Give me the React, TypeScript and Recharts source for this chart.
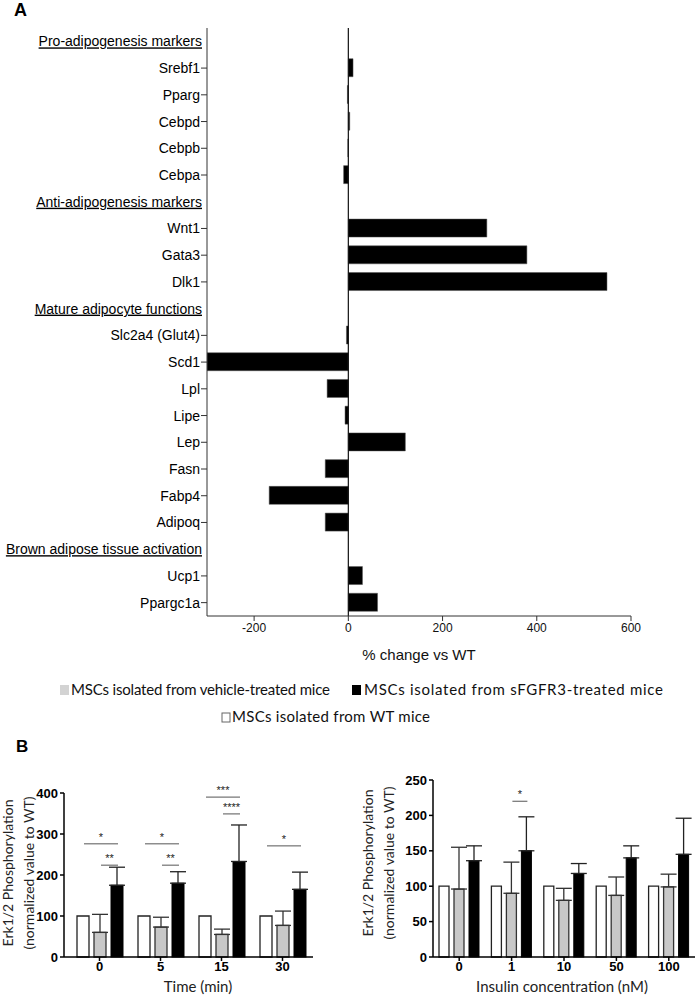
import React from 'react';
import { BarChart, Bar, XAxis, YAxis, ReferenceLine, ErrorBar } from 'recharts';

// ---------- Panel A data ----------
const A_NAMES = [
  'Pro-adipogenesis markers', 'Srebf1', 'Pparg', 'Cebpd', 'Cebpb', 'Cebpa',
  'Anti-adipogenesis markers', 'Wnt1', 'Gata3', 'Dlk1',
  'Mature adipocyte functions', 'Slc2a4 (Glut4)', 'Scd1', 'Lpl', 'Lipe', 'Lep', 'Fasn', 'Fabp4', 'Adipoq',
  'Brown adipose tissue activation', 'Ucp1', 'Ppargc1a',
];
const A_VALUES: (number | null)[] = [
  null, 10, -2, 3, -1, -10,
  null, 294, 379, 549,
  null, -4, -300, -45, -7, 121, -49, -168, -49,
  null, 30, 62,
];
const A_HEADINGS = [
  'Pro-adipogenesis markers', 'Anti-adipogenesis markers',
  'Mature adipocyte functions', 'Brown adipose tissue activation',
];
const A_TICKS = [-200, 0, 200, 400, 600];

// ---------- Panel B left (time) ----------
const T_CATS = ['0', '5', '15', '30'];
const T_WT = [100, 100, 100, 100];
const T_VEH = [60, 73, 55, 77];
const T_VEH_ERR = [44, 24, 13, 35];
const T_SFG = [175, 180, 233, 165];
const T_SFG_ERR = [44, 28, 89, 42];
const T_TICKS = [0, 100, 200, 300, 400];
const T_SIG_CAT = ['0', '0', '5', '5', '15', '15', '30'];
const T_SIG_FROM = ['wt', 'veh', 'wt', 'veh', 'wt', 'veh', 'wt'];
const T_SIG_Y = [276, 224, 276, 224, 390, 349, 271];
const T_SIG_LABEL = ['*', '**', '*', '**', '***', '****', '*'];

// ---------- Panel B right (insulin) ----------
const I_CATS = ['0', '1', '10', '50', '100'];
const I_WT = [100, 100, 100, 100, 100];
const I_VEH = [96, 90, 80, 87, 99];
const I_VEH_ERR = [59, 44, 17, 26, 18];
const I_SFG = [136, 150, 118, 140, 145];
const I_SFG_ERR = [21, 48, 14, 17, 51];
const I_TICKS = [0, 50, 100, 150, 200, 250];
const I_SIG_CAT = ['1'];
const I_SIG_FROM = ['veh'];
const I_SIG_Y = [220];
const I_SIG_LABEL = ['*'];

const F_ARIAL = '"Liberation Sans", Arial, sans-serif';
const F_CAL = 'Lato, "Open Sans", sans-serif';
const F_NARROW = '"Liberation Sans Narrow", "Liberation Sans", Arial, sans-serif';

const aData = A_NAMES.map((name, i) => ({ name, value: A_VALUES[i] }));
const tData = T_CATS.map((c, i) => ({
  cat: c, wt: T_WT[i], veh: T_VEH[i], vehErr: [0, T_VEH_ERR[i]], sfg: T_SFG[i], sfgErr: [0, T_SFG_ERR[i]],
}));
const iData = I_CATS.map((c, i) => ({
  cat: c, wt: I_WT[i], veh: I_VEH[i], vehErr: [0, I_VEH_ERR[i]], sfg: I_SFG[i], sfgErr: [0, I_SFG_ERR[i]],
}));

const GeneTick = (props: any) => {
  const { x, y, payload } = props;
  const heading = A_HEADINGS.includes(payload.value);
  if (heading) {
    return (
      <text x={x - 5} y={y} dy={5} textAnchor="end" fontSize={14} fontFamily={F_ARIAL} fill="#000"
        textDecoration="underline">{payload.value}</text>
    );
  }
  return (
    <g>
      <line x1={x - 6} x2={x} y1={y} y2={y} stroke="#333" strokeWidth={1} />
      <text x={x - 7} y={y} dy={5} textAnchor="end" fontSize={14} fontFamily={F_ARIAL} fill="#000">{payload.value}</text>
    </g>
  );
};

const makeSfgShape = (cats: string[], sigCat: string[], sigFrom: string[], sigY: number[], sigLabel: string[], gap: number) =>
  (props: any) => {
    const { x, y, width, height, index, payload } = props;
    const v = payload.sfg;
    const ppu = height / v;
    const bottom = y + height;
    const cx = x + width / 2;
    const step = width + gap;
    const items: any[] = [];
    sigCat.forEach((c, k) => {
      if (c !== cats[index]) return;
      const fromX = sigFrom[k] === 'wt' ? cx - 2 * step : cx - step;
      const ly = bottom - sigY[k] * ppu;
      items.push(
        <g key={k}>
          <line x1={fromX + 1} x2={cx + 1} y1={ly} y2={ly} stroke="#555" strokeWidth={1} />
          <text x={(fromX + cx) / 2 + 1} y={ly - 3} textAnchor="middle" fontSize={11} fontFamily={F_ARIAL}
            fill="#222" style={{ fill: '#222' }}>{sigLabel[k]}</text>
        </g>
      );
    });
    return (
      <g>
        <rect x={x} y={y} width={width} height={height} fill="#000" stroke="#000" strokeWidth={1} />
        {items}
      </g>
    );
  };

const bTick = { fontSize: 13, fontWeight: 'bold', fill: '#000', fontFamily: F_NARROW } as any;

export default function App() {
  const gapT = 5;
  const gapI = 5;
  return (
    <div style={{ position: 'absolute', left: 0, top: 0, width: 699, height: 995, background: '#fff', overflow: 'hidden' }}>
      {/* Panel A */}
      <div style={{ position: 'absolute', left: 0, top: 0 }}>
        <BarChart width={699} height={680} data={aData} layout="vertical"
          margin={{ top: 28, right: 68, bottom: 34, left: 0 }} barSize={18}>
          <XAxis type="number" domain={[-300, 600]} ticks={A_TICKS} allowDataOverflow
            height={30} tickSize={5} tickMargin={2} stroke="#333"
            tick={{ fontSize: 12, fill: '#111', fontFamily: F_ARIAL }} />
          <YAxis type="category" dataKey="name" width={207} interval={0} tickLine={false}
            tickSize={0} tickMargin={0} stroke="#333" tick={<GeneTick />} />
          <ReferenceLine x={0} stroke="#111" strokeWidth={1.2} />
          <Bar dataKey="value" fill="#000" stroke="#555" strokeWidth={0.5} isAnimationActive={false} />
        </BarChart>
      </div>

      {/* Panel B left */}
      <div style={{ position: 'absolute', left: 0, top: 720 }}>
        <BarChart width={330} height={275} data={tData}
          margin={{ top: 73, right: 17, bottom: 18, left: 0 }} barSize={12} barGap={gapT}>
          <XAxis dataKey="cat" height={20} padding={{ left: 5, right: 0 }} tickSize={4} tickMargin={1}
            stroke="#000" strokeWidth={1.5} tick={bTick} />
          <YAxis type="number" domain={[0, 400]} ticks={T_TICKS} width={64} tickSize={4} tickMargin={2}
            stroke="#000" strokeWidth={1.5} tick={bTick} />
          <Bar dataKey="wt" fill="#fff" stroke="#222" strokeWidth={1.3} isAnimationActive={false} />
          <Bar dataKey="veh" fill="#c8c8c8" stroke="#333" strokeWidth={1.3} isAnimationActive={false}>
            <ErrorBar dataKey="vehErr" width={8} stroke="#333" strokeWidth={1.3} direction="y" />
          </Bar>
          <Bar dataKey="sfg" fill="#000" isAnimationActive={false}
            shape={makeSfgShape(T_CATS, T_SIG_CAT, T_SIG_FROM, T_SIG_Y, T_SIG_LABEL, gapT)}>
            <ErrorBar dataKey="sfgErr" width={8} stroke="#222" strokeWidth={1.3} direction="y" />
          </Bar>
        </BarChart>
      </div>

      {/* Panel B right */}
      <div style={{ position: 'absolute', left: 350, top: 720 }}>
        <BarChart width={349} height={275} data={iData}
          margin={{ top: 60, right: 4, bottom: 18, left: 0 }} barSize={10} barGap={gapI}>
          <XAxis dataKey="cat" height={20} padding={{ left: 0, right: 0 }} tickSize={4} tickMargin={1}
            stroke="#000" strokeWidth={1.5} tick={bTick} />
          <YAxis type="number" domain={[0, 250]} ticks={I_TICKS} width={83} tickSize={4} tickMargin={2}
            stroke="#000" strokeWidth={1.5} tick={bTick} />
          <Bar dataKey="wt" fill="#fff" stroke="#222" strokeWidth={1.3} isAnimationActive={false} />
          <Bar dataKey="veh" fill="#c8c8c8" stroke="#333" strokeWidth={1.3} isAnimationActive={false}>
            <ErrorBar dataKey="vehErr" width={8} stroke="#333" strokeWidth={1.3} direction="y" />
          </Bar>
          <Bar dataKey="sfg" fill="#000" isAnimationActive={false}
            shape={makeSfgShape(I_CATS, I_SIG_CAT, I_SIG_FROM, I_SIG_Y, I_SIG_LABEL, gapI)}>
            <ErrorBar dataKey="sfgErr" width={8} stroke="#222" strokeWidth={1.3} direction="y" />
          </Bar>
        </BarChart>
      </div>

      {/* Text overlay */}
      <svg width={699} height={995} style={{ position: 'absolute', left: 0, top: 0, pointerEvents: 'none' }}>
        <text x={14} y={16} fontSize={18} fontWeight="bold" fontFamily={F_ARIAL} fill="#000">A</text>
        <text x={419} y={660} textAnchor="middle" fontSize={15} fontFamily={F_ARIAL} fill="#111">% change vs WT</text>

        <rect x={60} y={685} width={9} height={10} fill="#d3d3d3" />
        <text x={71} y={695} fontSize={15} fontFamily={F_CAL} fill="#111" textLength={259} lengthAdjust="spacing">MSCs isolated from vehicle-treated mice</text>
        <rect x={352} y={685} width={9} height={10} fill="#000" />
        <text x={364} y={695} fontSize={15} fontFamily={F_CAL} fill="#111" textLength={299} lengthAdjust="spacing">MSCs isolated from sFGFR3-treated mice</text>
        <rect x={222} y={713} width={8} height={9} fill="#fff" stroke="#666" strokeWidth={1} />
        <text x={232} y={722} fontSize={15} fontFamily={F_CAL} fill="#111" textLength={198} lengthAdjust="spacing">MSCs isolated from WT mice</text>

        <text x={16} y={752} fontSize={17} fontWeight="bold" fontFamily={F_ARIAL} fill="#000">B</text>

        <text transform="translate(13,873) rotate(-90)" textAnchor="middle" fontSize={14} fontFamily={F_CAL} fill="#222">Erk1/2 Phosphorylation</text>
        <text transform="translate(34,873) rotate(-90)" textAnchor="middle" fontSize={14} fontFamily={F_CAL} fill="#222">(normalized  value to WT)</text>
        <text x={198} y={992} textAnchor="middle" fontSize={15} fontFamily={F_CAL} fill="#222">Time (min)</text>

        <text transform="translate(373,863) rotate(-90)" textAnchor="middle" fontSize={14} fontFamily={F_CAL} fill="#222">Erk1/2 Phosphorylation</text>
        <text transform="translate(394,863) rotate(-90)" textAnchor="middle" fontSize={14} fontFamily={F_CAL} fill="#222">(normalized  value to WT)</text>
        <text x={562} y={992} textAnchor="middle" fontSize={15} fontFamily={F_CAL} fill="#222">Insulin concentration  (nM)</text>
      </svg>
    </div>
  );
}
